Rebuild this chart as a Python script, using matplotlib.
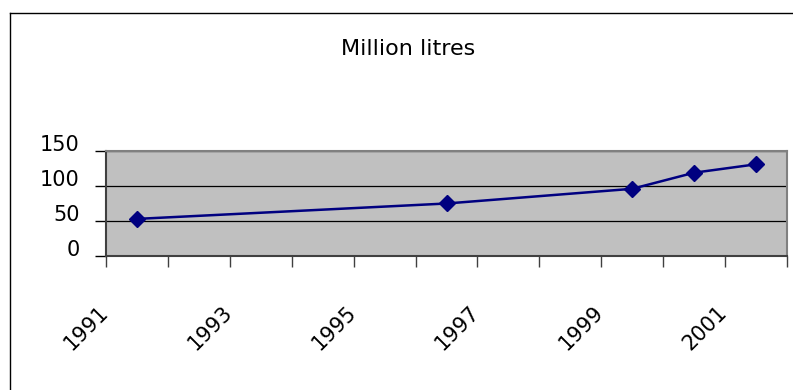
import numpy as np
import matplotlib
matplotlib.use("Agg")
import matplotlib.pyplot as plt
import matplotlib.transforms as mtransforms
from matplotlib.lines import Line2D

# data
years = [1991, 1996, 1999, 2000, 2001]
values = [53, 75, 96, 119, 131]
axis_years = list(range(1991, 2002))
label_years = [1991, 1993, 1995, 1997, 1999, 2001]
y_ticks = [0, 50, 100, 150]
title = "Million litres"

# the original text is stretched wide, DejaVu Sans is the closest match
plt.rcParams['font.family'] = ['DejaVu Sans']

W, H = 793, 390
fig = plt.figure(figsize=(W / 100, H / 100), dpi=100)

# outer chart frame (only left and top edges are in view)
fx = 10 / W
fy = 1 - 13 / H
fig.add_artist(Line2D([fx, fx], [0, fy], color='black', lw=1.0, transform=fig.transFigure))
fig.add_artist(Line2D([fx, 1], [fy, fy], color='black', lw=1.0, transform=fig.transFigure))

left, right, top, bottom = 106, 787, 151, 256
ax = fig.add_axes([left / W, 1 - bottom / H, (right - left) / W, (bottom - top) / H])
ax.set_facecolor('#C0C0C0')
for s in ax.spines.values():
    s.set_color('#808080')
    s.set_linewidth(1.5)
ax.spines['left'].set_color('#404040')
ax.spines['bottom'].set_color('#404040')

ax.plot(years, values, color='#000080', lw=1.8, marker='D', markersize=8,
        markerfacecolor='#000080', markeredgecolor='#000080', zorder=3)

ax.set_ylim(0, 150)
ax.set_yticks(y_ticks)
ax.yaxis.grid(True, color='black', lw=0.9)
ax.set_axisbelow(True)

edges = [y - 0.5 for y in axis_years] + [axis_years[-1] + 0.5]
ax.set_xlim(edges[0], edges[-1])
ax.set_xticks(edges)
ax.set_xticklabels([str(int(e + 0.5)) if int(e + 0.5) in label_years else '' for e in edges])

ax.tick_params(axis='y', length=8, width=1, pad=11, labelsize=15)
ax.tick_params(axis='x', length=8, width=1, pad=25, labelsize=15, color='#404040')
shift = mtransforms.ScaledTranslation(-8 / 100, 0, fig.dpi_scale_trans)
for t in ax.get_xticklabels():
    t.set_rotation(45)
    t.set_rotation_mode('anchor')
    t.set_ha('right')
    t.set_va('top')
    t.set_transform(t.get_transform() + shift)
for t in ax.get_yticklabels():
    t.set_va('baseline')

fig.text(408 / W, 1 - 49 / H, title, ha='center', va='center', fontsize=16)

fig.savefig('out.png', dpi=100)
